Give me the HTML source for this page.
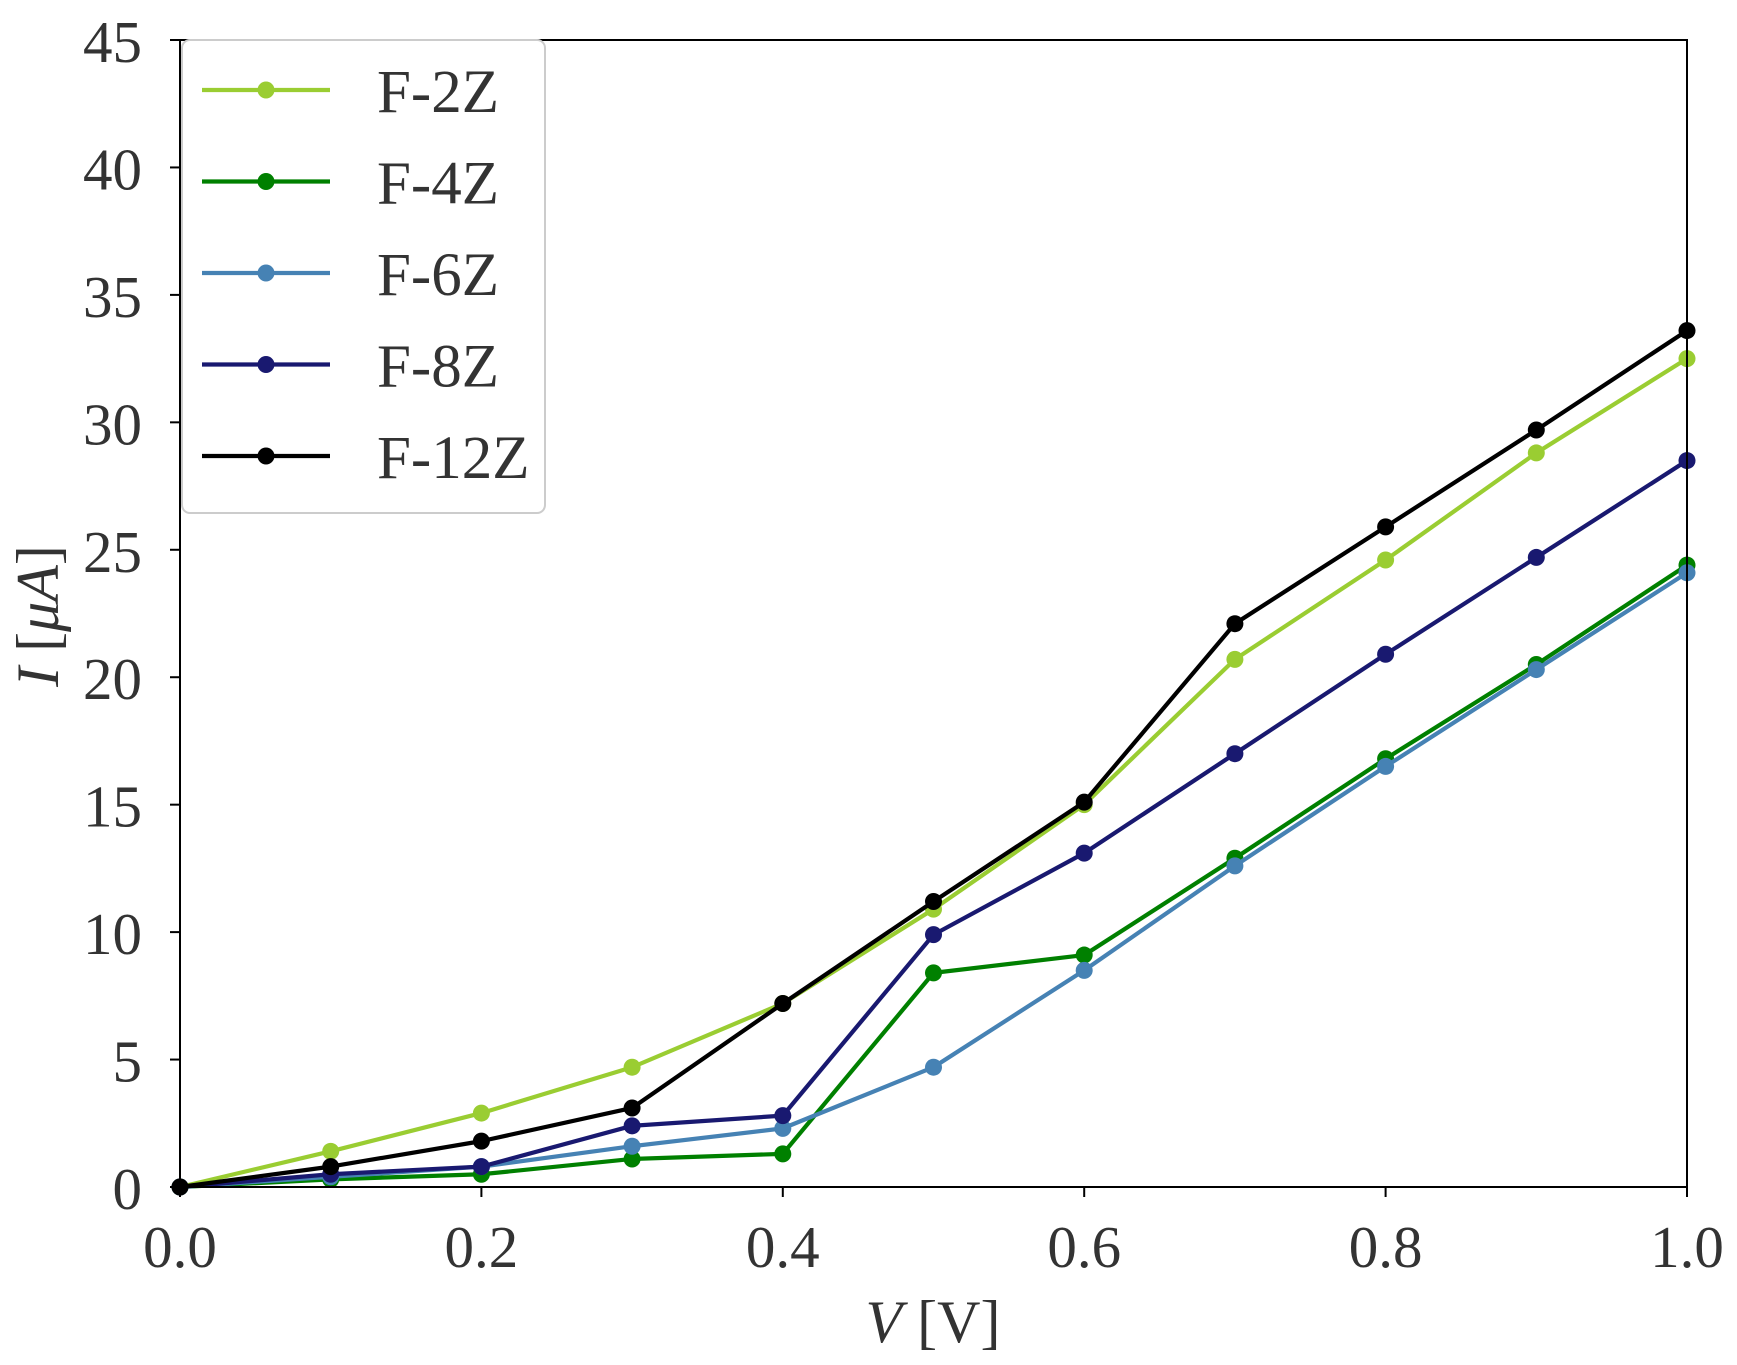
<!DOCTYPE html>
<html><head><meta charset="utf-8"><style>
html,body{margin:0;padding:0;background:#fff;}
svg{display:block;font-family:"Liberation Serif",serif;}
</style></head><body>
<svg id="s" width="1737" height="1365" viewBox="0 0 1737 1365" xmlns="http://www.w3.org/2000/svg">
<rect width="1737" height="1365" fill="#fff"/>
<g id="plot"></g>
<rect x="180" y="40" width="1507" height="1147" fill="none" stroke="#000" stroke-width="2"/>
<g id="ticks" font-size="59" fill="#333"></g>
<g id="leg"></g>
<text x="933" y="1342" font-size="60" text-anchor="middle" fill="#333"><tspan font-style="italic">V</tspan> [V]</text>
<text transform="translate(58,616) rotate(-90)" font-size="60" text-anchor="middle" fill="#333"><tspan font-style="italic">I</tspan> [<tspan font-style="italic">μA</tspan>]</text>
</svg>
<script>
const NS="http://www.w3.org/2000/svg";
function el(p,t,a,txt){const e=document.createElementNS(NS,t);for(const k in a)e.setAttribute(k,a[k]);if(txt!==undefined)e.textContent=txt;p.appendChild(e);return e;}
const X=v=>180+v*1507, Y=v=>1187-v*1147/45;
const series=[
["F-2Z","#9acd32",[0,1.4,2.9,4.7,7.2,10.9,15.0,20.7,24.6,28.8,32.5]],
["F-4Z","#008000",[0,0.3,0.5,1.1,1.3,8.4,9.1,12.9,16.8,20.5,24.4]],
["F-6Z","#4682b4",[0,0.4,0.8,1.6,2.3,4.7,8.5,12.6,16.5,20.3,24.1]],
["F-8Z","#191970",[0,0.5,0.8,2.4,2.8,9.9,13.1,17.0,20.9,24.7,28.5]],
["F-12Z","#000000",[0,0.8,1.8,3.1,7.2,11.2,15.1,22.1,25.9,29.7,33.6]]];
const plot=document.getElementById('plot');
series.forEach(([n,c,d])=>{
 el(plot,'polyline',{points:d.map((v,i)=>X(i/10)+','+Y(v)).join(' '),fill:'none',stroke:c,'stroke-width':4.2,'stroke-linejoin':'round'});
 d.forEach((v,i)=>el(plot,'circle',{cx:X(i/10),cy:Y(v),r:8.5,fill:c}));
});
const tk=document.getElementById('ticks');
for(let i=0;i<=9;i++){const v=i*5,y=Y(v);
 el(tk,'line',{x1:170,x2:180,y1:y,y2:y,stroke:'#000','stroke-width':2});
 el(tk,'text',{x:142,y:y+22,'text-anchor':'end'},String(v));}
for(let i=0;i<=5;i++){const v=i*0.2,x=X(v);
 el(tk,'line',{x1:x,x2:x,y1:1187,y2:1197,stroke:'#000','stroke-width':2});
 el(tk,'text',{x:x,y:1267,'text-anchor':'middle'},v.toFixed(1));}
const lg=document.getElementById('leg');
el(lg,'rect',{x:182,y:40,width:363,height:473,rx:8,fill:'#fff','fill-opacity':0.85,stroke:'#ccc','stroke-width':2});
series.forEach(([n,c],i)=>{const y=90+i*91.5;
 el(lg,'line',{x1:202,x2:330,y1:y,y2:y,stroke:c,'stroke-width':4.2});
 el(lg,'circle',{cx:266,cy:y,r:8.5,fill:c});
 el(lg,'text',{x:377,y:y+22,'font-size':61,fill:'#333'},n);});
</script>
</body></html>
